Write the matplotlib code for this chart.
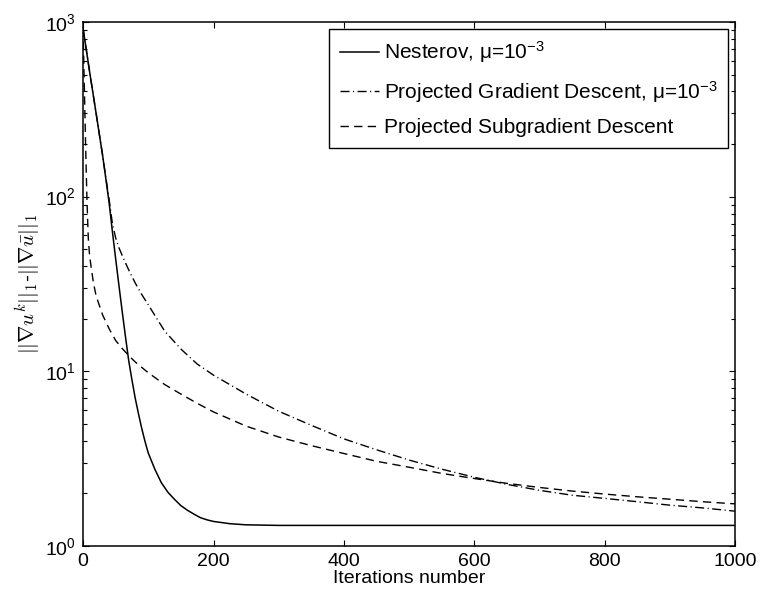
import numpy as np
import matplotlib
matplotlib.use("Agg")
import matplotlib.pyplot as plt

plt.rcParams["font.family"] = ["Liberation Sans", "DejaVu Sans"]
plt.rcParams["mathtext.fontset"] = "custom"
plt.rcParams["mathtext.rm"] = "Liberation Sans"
plt.rcParams["mathtext.it"] = "Liberation Sans:italic"
plt.rcParams["mathtext.bf"] = "Liberation Sans:bold"

# values
nesterov_x = [0, 5, 10, 15, 20, 25, 30, 35, 40, 45, 50, 55, 60, 65, 70, 75,
              80, 85, 90, 95, 100, 110, 120, 130, 140, 150, 160, 170, 180,
              190, 200, 225, 250, 300, 500, 1000]
nesterov_y = [920, 692, 520, 395, 300, 227, 172, 126, 92, 63, 44, 31, 22,
              15.8, 11.5, 8.9, 7.0, 5.7, 4.7, 3.96, 3.4, 2.75, 2.3, 2.03,
              1.85, 1.7, 1.6, 1.52, 1.45, 1.41, 1.38, 1.34, 1.32, 1.31, 1.31,
              1.31]

pgd_x = [0, 5, 10, 15, 20, 25, 30, 35, 40, 45, 50, 55, 60, 70, 80, 90, 100,
         125, 150, 175, 200, 250, 300, 350, 400, 450, 500, 550, 600, 650, 700,
         750, 800, 850, 900, 950, 1000]
pgd_y = [920, 692, 520, 395, 300, 227, 172, 128, 96, 70, 58, 51, 46, 38, 32,
         27.5, 24, 17, 13.4, 11.0, 9.5, 7.4, 5.9, 4.9, 4.1, 3.55, 3.1, 2.75,
         2.47, 2.25, 2.08, 1.95, 1.87, 1.79, 1.71, 1.65, 1.58]

psd_x = [0, 2, 4, 6, 8, 10, 13, 16, 20, 30, 40, 50, 60, 70, 80, 100, 125,
         150, 175, 200, 250, 300, 350, 400, 450, 500, 550, 600, 650, 700, 750,
         800, 850, 900, 950, 1000]
psd_y = [920, 420, 190, 95, 58, 46, 38, 32, 27, 21, 17.5, 15, 13.5, 12.3,
         11.3, 9.8, 8.4, 7.4, 6.55, 5.85, 4.85, 4.2, 3.75, 3.38, 3.05, 2.82,
         2.6, 2.43, 2.28, 2.16, 2.06, 1.98, 1.91, 1.85, 1.79, 1.74]

x_ticks = [0, 200, 400, 600, 800, 1000]


def main():
    fig = plt.figure(figsize=(7.62, 5.94), dpi=100)
    ax = fig.add_axes([0.109, 0.081, 0.856, 0.882])

    ax.semilogy(nesterov_x, nesterov_y, color="k", lw=1.1,
                label="Nesterov, μ=10$^{-3}$")
    ax.semilogy(pgd_x, pgd_y, color="k", lw=1.0,
                linestyle=(0, (6.5, 2.5, 0.8, 2.5)),
                label="Projected Gradient Descent, μ=10$^{-3}$")
    ax.semilogy(psd_x, psd_y, color="k", lw=1.0,
                linestyle=(0, (6, 3.8)),
                label="Projected Subgradient Descent")

    ax.set_xlim(0, 1000)
    ax.set_ylim(1, 1000)
    ax.set_xticks(x_ticks)
    ax.tick_params(which="both", direction="in", top=True, right=True,
                   labelsize=14, width=0.8)
    ax.tick_params(which="major", length=4.5, pad=5)
    ax.tick_params(which="minor", length=2.8)
    for s in ax.spines.values():
        s.set_linewidth(1.1)

    ax.set_xlabel("Iterations number", fontsize=14, labelpad=0)
    ax.set_ylabel(r"$||\nabla u^k||_1$-$||\nabla \bar{u}||_1$",
                  fontsize=15, labelpad=2, math_fontfamily="cm")

    leg = ax.legend(loc="upper right", fontsize=15, fancybox=False,
                    framealpha=1, edgecolor="k", borderaxespad=0.33,
                    handlelength=1.9, handletextpad=0.25, borderpad=0.5,
                    labelspacing=0.65)
    leg.get_frame().set_linewidth(1.0)

    fig.savefig("out.png", dpi=100)


if __name__ == "__main__":
    main()
